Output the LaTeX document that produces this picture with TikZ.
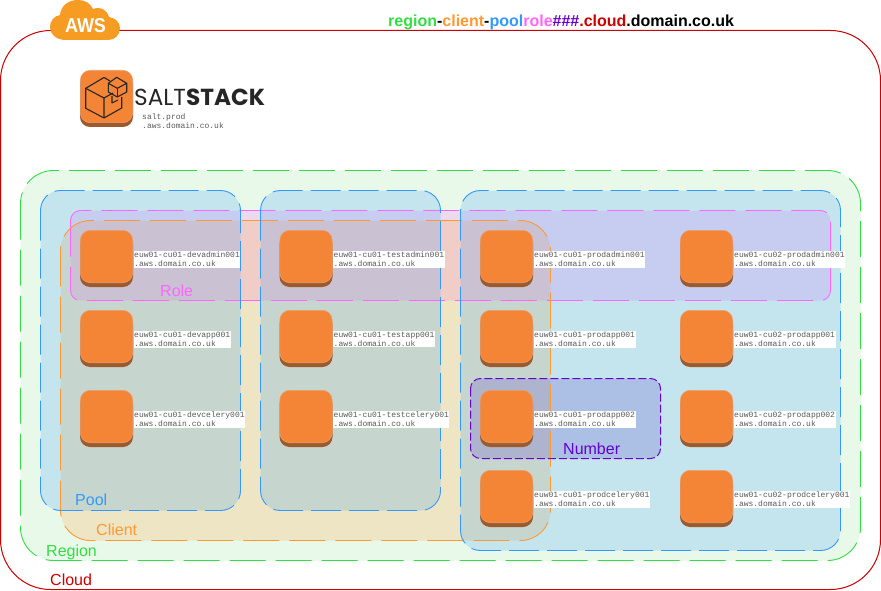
\documentclass[tikz,border=0pt]{standalone}
\usepackage{fontspec}
\setmainfont{Liberation Sans}
\setmonofont{Liberation Mono}
\newfontfamily\saltfont{Poppins}
\usetikzlibrary{calc}
\definecolor{cloudc}{HTML}{CC0000}
\definecolor{regionc}{HTML}{33DD44}
\definecolor{regionfill}{HTML}{E9F9E9}
\definecolor{clientc}{HTML}{FF9933}
\definecolor{poolc}{HTML}{3399FF}
\definecolor{rolec}{HTML}{FF66FF}
\definecolor{numberc}{HTML}{6600CC}
\definecolor{numberfill}{HTML}{5030CC}
\definecolor{iconc}{HTML}{F58536}
\definecolor{iconedge}{HTML}{E8A070}
\definecolor{iconbase}{HTML}{9C5A2D}
\definecolor{awsc}{HTML}{F79C23}
\tikzset{
  x=1pt,y=-1pt,
  zonefill/.style={fill opacity=.2,draw=none},
  zoneline/.style={line width=.9pt,dash pattern=on 36pt off 10pt},
  tag/.style={font=\fontsize{16}{16}\selectfont,anchor=base west,inner sep=0pt},
  hostlabel/.style={font=\ttfamily\fontsize{8}{9}\selectfont,fill=white,anchor=north west,inner xsep=.5pt,inner ysep=1pt,align=left,text=black!65},
  saltline/.style={draw=black!85,line width=1.1pt,line join=round}
}
\newcommand{\iconbox}[2]{%
  \fill[iconbase,rounded corners=10pt] (#1,#2+4) rectangle ++(53,53);
  \fill[iconc,draw=iconedge,line width=.6pt,rounded corners=10pt] (#1+.3,#2+.3) rectangle ++(52.4,52.4);
}
\newcommand{\host}[4]{% name, icon x, icon y, text
  \iconbox{#2}{#3}
  \node[hostlabel] (#1) at (#2+53.5,#3+20.5) {#4\\.aws.domain.co.uk};
}
\begin{document}
\begin{tikzpicture}
\useasboundingbox (0,0) rectangle (881,591);
% cloud
\draw[cloudc,line width=1pt,fill=white,rounded corners=50pt] (.5,30.5) rectangle (880.5,589.5);
% fills
\fill[regionfill,rounded corners=33pt] (20.5,170.5) rectangle (860.5,560.5);
\fill[rolec,zonefill,rounded corners=10pt] (70.5,210.5) rectangle (830.5,300.5);
\fill[clientc,zonefill,rounded corners=30pt] (60.5,220.5) rectangle (550.5,540.5);
\fill[poolc,zonefill,rounded corners=20pt] (40.5,190.5) rectangle (240.5,510.5);
\fill[poolc,zonefill,rounded corners=20pt] (260.5,190.5) rectangle (440.5,510.5);
\fill[poolc,zonefill,rounded corners=20pt] (460.5,190.5) rectangle (840.5,550.5);
\fill[numberfill,zonefill,rounded corners=10pt] (470.5,378.5) rectangle (660.5,458.5);
% outlines
\draw[regionc,zoneline,rounded corners=33pt] (20.5,170.5) rectangle (860.5,560.5);
\draw[rolec,zoneline,rounded corners=10pt] (70.5,210.5) rectangle (830.5,300.5);
\draw[clientc,zoneline,rounded corners=30pt] (60.5,220.5) rectangle (550.5,540.5);
\draw[poolc,zoneline,dash pattern=on 30pt off 8pt,rounded corners=20pt] (40.5,190.5) rectangle (240.5,510.5);
\draw[poolc,zoneline,dash pattern=on 30pt off 8pt,rounded corners=20pt] (260.5,190.5) rectangle (440.5,510.5);
\draw[poolc,zoneline,dash pattern=on 30pt off 8pt,rounded corners=20pt] (460.5,190.5) rectangle (840.5,550.5);
\draw[numberc,line width=1pt,dash pattern=on 8pt off 3pt,rounded corners=10pt] (470.5,378.5) rectangle (660.5,458.5);
% AWS badge
\fill[awsc] (66,40) .. controls (55,40) and (50,33) .. (50,27)
  .. controls (50,21) and (54,16) .. (60,15)
  .. controls (61,5) and (69,0) .. (78,0)
  .. controls (85,0) and (90,3) .. (93,9)
  .. controls (101,6) and (108,11) .. (109,17)
  .. controls (115,18) and (120,22) .. (120,28)
  .. controls (120,35) and (115,40) .. (108,40) -- cycle;
\node[font=\bfseries\fontsize{20}{20}\selectfont,text=white,inner sep=0pt,xscale=.9] (aws) at (85.5,26) {AWS};
% title
\node[font=\bfseries\fontsize{16}{16}\selectfont,anchor=base west,inner sep=0pt] (title) at (388,26.5)
  {\textcolor{regionc}{region}-\textcolor{clientc}{client}-\textcolor{poolc}{pool}\textcolor{rolec}{role}\textcolor{numberc}{\#\#\#}\textcolor{cloudc}{.cloud}.domain.co.uk};
% salt
\iconbox{80}{70}
\begin{scope}[saltline]
\draw (104,77.5) -- (85.7,88.3) -- (85.7,108.3) -- (104,118) -- (121.7,108) -- (121.7,97);
\draw (85.7,88.3) -- (104,98) -- (104,118);
\draw (104,98) -- (113,93);
\draw (104,77.5) -- (110,81);
\draw (116.7,77.3) -- (108.3,83.3) -- (117.3,88.3) -- (126.7,83.3) -- cycle;
\draw (108.3,83.3) -- (108.3,92) -- (117.3,97) -- (126.7,92) -- (126.7,83.3);
\draw (117.3,88.3) -- (117.3,97);
\draw (112,96) -- (112,103) -- (118,100);
\end{scope}
\node[anchor=base west,inner sep=0pt,text=black!85,font=\saltfont\fontsize{23.2}{24}\selectfont] (salt) at (134,105.5) {SALT\textbf{STACK}};
\node[font=\ttfamily\fontsize{8}{9}\selectfont,text=black!65,anchor=north west,inner sep=0pt,align=left] (saltlabel) at (142,113.5) {salt.prod\\.aws.domain.co.uk};
% hosts
\host{a1}{80}{230}{euw01-cu01-devadmin001}
\host{a2}{80}{310}{euw01-cu01-devapp001}
\host{a3}{80}{390}{euw01-cu01-devcelery001}
\host{b1}{279.5}{230}{euw01-cu01-testadmin001}
\host{b2}{279.5}{310}{euw01-cu01-testapp001}
\host{b3}{279.5}{390}{euw01-cu01-testcelery001}
\host{c1}{480}{230}{euw01-cu01-prodadmin001}
\host{c2}{480}{310}{euw01-cu01-prodapp001}
\host{c3}{480}{390}{euw01-cu01-prodapp002}
\host{c4}{480}{470}{euw01-cu01-prodcelery001}
\host{d1}{680}{230}{euw01-cu02-prodadmin001}
\host{d2}{680}{310}{euw01-cu02-prodapp001}
\host{d3}{680}{390}{euw01-cu02-prodapp002}
\host{d4}{680}{470}{euw01-cu02-prodcelery001}
% tags
\node[tag,text=rolec] (role) at (160,296) {Role};
\node[tag,text=numberc] (number) at (563,454) {Number};
\node[tag,text=poolc] (pool) at (75,505.5) {Pool};
\node[tag,text=clientc] (client) at (96,535.5) {Client};
\node[tag,text=regionc] (region) at (46,556) {Region};
\node[tag,text=cloudc] (cloudt) at (50,585.5) {Cloud};
\end{tikzpicture}
\end{document}
